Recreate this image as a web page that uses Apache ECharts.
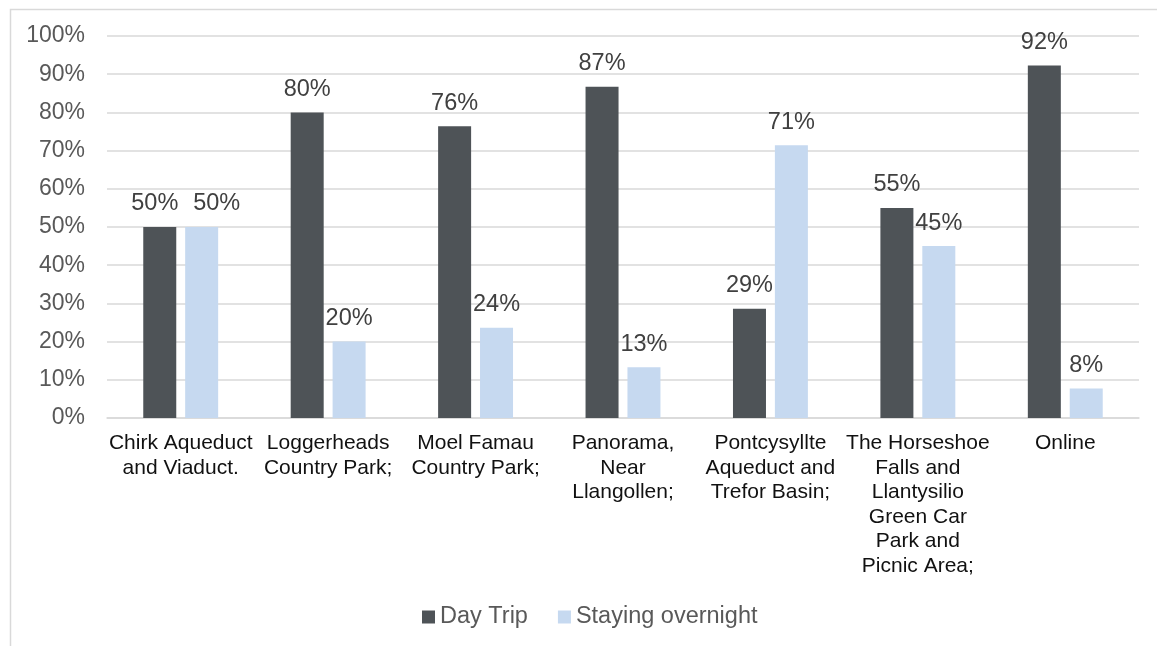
<!DOCTYPE html>
<html>
<head>
<meta charset="utf-8">
<script src="https://cdn.jsdelivr.net/npm/echarts@6/dist/echarts.min.js"></script>
<style>
  html, body { margin: 0; padding: 0; background: #fff; }
  #chart { width: 1157px; height: 646px; }
</style>
</head>
<body>
<div id="chart"></div>
<script>
// categories (line breaks as in the picture)
var places = [
    'Chirk Aqueduct\nand Viaduct.',
    'Loggerheads\nCountry Park;',
    'Moel Famau\nCountry Park;',
    'Panorama,\nNear\nLlangollen;',
    'Pontcysyllte\nAqueduct and\nTrefor Basin;',
    'The Horseshoe\nFalls and\nLlantysilio\nGreen Car\nPark and\nPicnic Area;',
    'Online'
];
var dayTrip = [50, 80, 76.4, 86.7, 28.6, 55, 92.3];
var stayingOvernight = [50, 20, 23.6, 13.3, 71.4, 45, 7.7];

var font = '"Liberation Sans", Arial, sans-serif';

// the two labels of the first group were pulled apart in the original
function withNudge(values, dx) {
    return values.map(function (v, i) {
        if (i === 0) return { value: v, label: { offset: [dx, 0] } };
        return v;
    });
}

var labelStyle = {
    show: true,
    position: 'top',
    distance: 11,
    fontSize: 23.5,
    color: '#404040',
    fontFamily: font,
    formatter: function (p) { return Math.round(p.value) + '%'; }
};

var mychart = echarts.init(document.getElementById('chart'));
var option = {
    animation: false,
    textStyle: { fontFamily: font },
    graphic: [{
        type: 'rect',
        left: 8, top: 7,
        shape: { width: 1170, height: 660 },
        style: { fill: 'none', stroke: '#d9d9d9', lineWidth: 1.5 },
        silent: true
    }],
    grid: { left: 107, right: 18, top: 36, bottom: 228 },
    legend: {
        left: 417,
        top: 600,
        itemWidth: 13,
        itemHeight: 13,
        itemGap: 30,
        icon: 'rect',
        textStyle: { fontSize: 23.5, color: '#595959', fontFamily: font },
        data: ['Day Trip', 'Staying overnight']
    },
    xAxis: {
        type: 'category',
        data: places,
        axisTick: { show: false },
        axisLine: { lineStyle: { color: '#d9d9d9', width: 1.5 } },
        axisLabel: {
            interval: 0,
            margin: 13,
            fontSize: 21,
            lineHeight: 24.5,
            color: '#111111',
            fontFamily: font
        }
    },
    yAxis: {
        type: 'value',
        min: 0,
        max: 100,
        interval: 10,
        axisLine: { show: false },
        axisTick: { show: false },
        splitLine: { lineStyle: { color: '#d9d9d9', width: 1.5 } },
        axisLabel: {
            margin: 22,
            fontSize: 23,
            color: '#595959',
            fontFamily: font,
            formatter: '{value}%'
        }
    },
    series: [
        {
            name: 'Day Trip',
            type: 'bar',
            data: withNudge(dayTrip, -5),
            barWidth: 33,
            barGap: '27%',
            itemStyle: { color: '#4e5357' },
            label: labelStyle
        },
        {
            name: 'Staying overnight',
            type: 'bar',
            data: withNudge(stayingOvernight, 15),
            barWidth: 33,
            itemStyle: { color: '#c6d9f0' },
            label: labelStyle
        }
    ]
};
mychart.setOption(option);
</script>
</body>
</html>
